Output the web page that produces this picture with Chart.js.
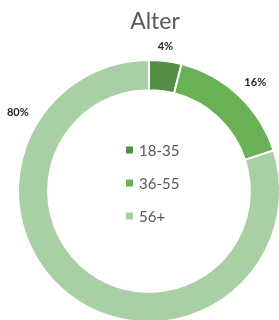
<!DOCTYPE html>
<html>
<head>
<meta charset="utf-8">
<script src="https://cdn.jsdelivr.net/npm/chart.js@4.4.0/dist/chart.umd.min.js"></script>
<style>
html, body { margin: 0; padding: 0; width: 279px; height: 320px; overflow: hidden; background: #fff; }
#wrap { position: absolute; left: 0; top: 0; width: 300px; height: 340px; }
</style>
</head>
<body>
<div id="wrap"><canvas id="alter_chart"></canvas></div>
<script>
var chart_title = 'Alter';
var age_labels = ['18-35', '36-55', '56+'];
var age_values = [4, 16, 80];
var age_colors = ['rgb(84, 141, 68)', 'rgb(106, 176, 84)', 'rgb(169, 208, 164)'];

var font_family = 'Lato, "Open Sans", sans-serif';

// title, percent labels and the legend in the middle
var alterText = {
    id: 'alterText',
    afterDraw: function(chart, args, opts) {
        var ctx = chart.ctx;
        var meta = chart.getDatasetMeta(0);
        var total = age_values.reduce(function(a, b) { return a + b; }, 0);
        ctx.save();

        ctx.fillStyle = '#595959';
        ctx.font = '23px ' + font_family;
        ctx.textAlign = 'center';
        ctx.textBaseline = 'middle';
        ctx.fillText(chart_title, 155, 22);

        ctx.font = 'bold 11px ' + font_family;
        ctx.fillStyle = '#262626';
        meta.data.forEach(function(arc, i) {
            var f = opts.labelPos[i];
            var ang = arc.startAngle + (arc.endAngle - arc.startAngle) * f;
            var r = arc.outerRadius + opts.labelGap[i];
            var x = arc.x + Math.cos(ang) * r;
            var y = arc.y + Math.sin(ang) * r;
            ctx.fillText(Math.round(age_values[i] / total * 100) + '%', x, y);
        });

        ctx.font = '15px ' + font_family;
        ctx.textAlign = 'left';
        var cx = meta.data[0].x;
        var cy = meta.data[0].y;
        age_labels.forEach(function(lab, i) {
            var y = cy - 41 + i * 33;
            ctx.fillStyle = age_colors[i];
            ctx.fillRect(cx - 23, y - 3.5, 7, 7);
            ctx.fillStyle = '#595959';
            ctx.fillText(lab, cx - 10, y + 1);
        });
        ctx.restore();
    }
};

var alter_chart = new Chart(document.getElementById('alter_chart'), {
    type: 'doughnut',
    data: {
        labels: age_labels,
        datasets: [{
            data: age_values,
            backgroundColor: age_colors,
            borderColor: '#ffffff',
            borderWidth: 2,
        }]
    },
    options: {
        responsive: true,
        maintainAspectRatio: false,
        animation: false,
        cutout: '77%',
        layout: {
            padding: { top: 59, left: 17, right: 19, bottom: 17 }
        },
        plugins: {
            legend: { display: false },
            tooltip: { enabled: false },
            alterText: {
                labelPos: [0.45, 0.52, 0.795],
                labelGap: [14, 21, 22]
            }
        }
    },
    plugins: [alterText]
});
</script>
</body>
</html>
